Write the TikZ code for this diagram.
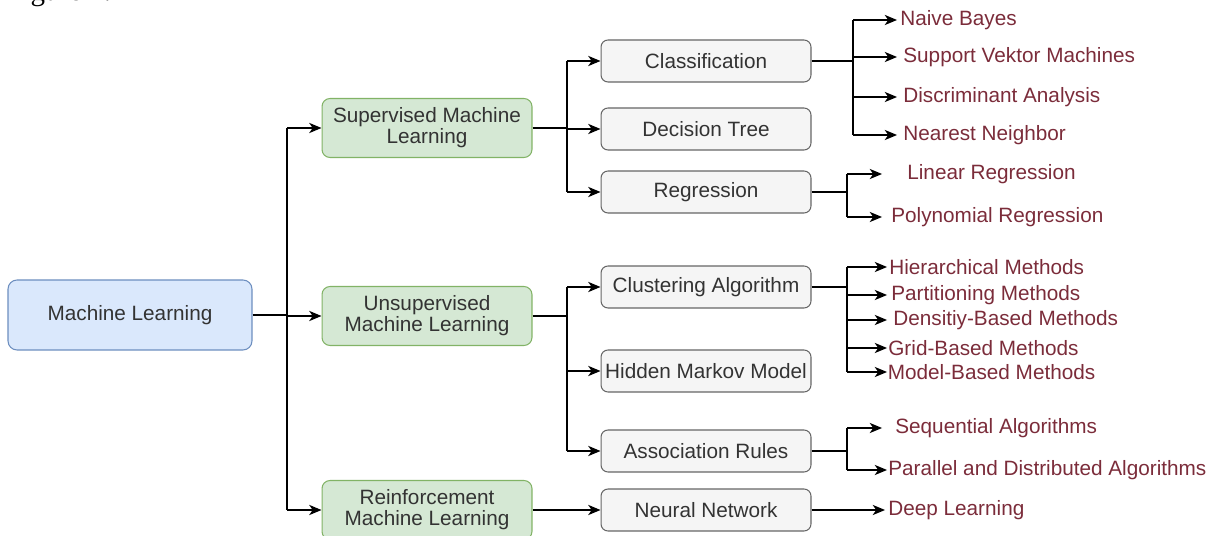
\documentclass[tikz,border=0pt]{standalone}
\usepackage{fontspec}
\setmainfont{Liberation Sans}
\newfontfamily\capfont{Liberation Serif}
\usepackage{xcolor}
\usepackage{tikz}
\usetikzlibrary{arrows.meta}
\definecolor{rootfill}{HTML}{DAE8FC}
\definecolor{rootline}{HTML}{6C8EBF}
\definecolor{kindfill}{HTML}{D5E8D4}
\definecolor{kindline}{HTML}{82B366}
\definecolor{algofill}{HTML}{F5F5F5}
\definecolor{algoline}{HTML}{666666}
\definecolor{boxtext}{HTML}{333333}
\definecolor{leaftext}{HTML}{7B2C3A}
\tikzset{
  root/.style={draw=rootline, fill=rootfill, line width=0.6pt, rounded corners=0.18cm,
    minimum width=4.88cm, minimum height=1.4cm, text=boxtext},
  kind/.style={draw=kindline, fill=kindfill, line width=0.6pt, rounded corners=0.16cm,
    minimum width=4.2cm, minimum height=1.18cm, text=boxtext, align=center},
  algo/.style={draw=algoline, fill=algofill, line width=0.6pt, rounded corners=0.14cm,
    minimum width=4.2cm, minimum height=0.84cm, text=boxtext, inner xsep=1pt},
  leaf/.style={anchor=west, inner xsep=0.12cm, inner ysep=1pt, text=leaftext},
  line/.style={draw=black, line width=0.8pt},
  arr/.style={line, -{Stealth[length=7pt, width=5.8pt, inset=2pt]}}
}

\begin{document}
\begin{tikzpicture}[x=0.02cm, y=-0.02cm, font=\fontsize{11.8}{11.8}\selectfont]
  \useasboundingbox (0,0) rectangle (1212,536);
  \node[anchor=base west, inner sep=0pt, font=\capfont\fontsize{16.5}{18}\selectfont] (fig) at (6,1) {Figure 2.};

  % main boxes
  \node[root] (ml) at (130,315) {Machine Learning};
  \node[kind] (sup) at (427,128) {Supervised Machine\\Learning};
  \node[kind] (uns) at (427,316) {Unsupervised\\Machine Learning};
  \node[kind] (rei) at (427,510) {Reinforcement\\Machine Learning};

  \node[algo] (cls) at (706,61) {Classification};
  \node[algo] (dt) at (706,129) {Decision Tree};
  \node[algo] (reg) at (706,192) {Regression};
  \node[algo] (clu) at (706,287) {Clustering Algorithm};
  \node[algo] (hmm) at (706,371) {Hidden Markov Model};
  \node[algo] (asr) at (706,451) {Association Rules};
  \node[algo] (nnw) at (706,510) {Neural Network};

  % leaves
  \node[leaf, inner xsep=0.06cm] (nb) at (897,20) {Naive Bayes};
  \node[leaf] (svm) at (897,57) {Support Vektor Machines};
  \node[leaf] (da) at (897,97) {Discriminant Analysis};
  \node[leaf] (nn) at (897,135) {Nearest Neighbor};
  \node[leaf, inner xsep=0.5cm] (lr) at (882,174) {Linear Regression};
  \node[leaf, inner xsep=0.18cm] (pr) at (882,217) {Polynomial Regression};
  \node[leaf, inner xsep=0.04cm] (hm) at (887,267) {Hierarchical Methods};
  \node[leaf, inner xsep=0.08cm] (pm) at (887,295) {Partitioning Methods};
  \node[leaf, inner xsep=0.12cm] (dbm) at (887,320) {Densitiy-Based Methods};
  \node[leaf, inner xsep=0.02cm] (gbm) at (887,348) {Grid-Based Methods};
  \node[leaf, inner xsep=0.01cm] (mbm) at (887,372) {Model-Based Methods};
  \node[leaf, inner xsep=0.26cm] (sa) at (882,428) {Sequential Algorithms};
  \node[leaf, inner xsep=0.02cm] (pda) at (887,470) {Parallel and Distributed Algorithms};
  \node[leaf, inner xsep=0.06cm] (dl) at (885,510) {Deep Learning};

  % branch points
  \coordinate (mlb) at (287,315);
  \coordinate (supb) at (567,128);
  \coordinate (unsb) at (567,316);
  \coordinate (clsb) at (853,61);
  \coordinate (regb) at (847,192);
  \coordinate (club) at (847,287);
  \coordinate (asrb) at (847,451);

  % connectors
  \draw[line] (ml.east) -- (mlb);
  \draw[line] (mlb |- sup.west) -- (mlb |- rei.west);
  \foreach \k in {sup,uns,rei} \draw[arr] (mlb |- \k.west) -- (\k.west);

  \draw[line] (sup.east) -- (supb);
  \draw[line] (supb |- cls.west) -- (supb |- reg.west);
  \foreach \k in {cls,dt,reg} \draw[arr] (supb |- \k.west) -- (\k.west);

  \draw[line] (uns.east) -- (unsb);
  \draw[line] (unsb |- clu.west) -- (unsb |- asr.west);
  \foreach \k in {clu,hmm,asr} \draw[arr] (unsb |- \k.west) -- (\k.west);

  \draw[arr] (rei.east) -- (nnw.west);

  \draw[line] (cls.east) -- (clsb);
  \draw[line] (clsb |- nb.west) -- (clsb |- nn.west);
  \foreach \k in {nb,svm,da,nn} \draw[arr] (clsb |- \k.west) -- (\k.west);

  \draw[line] (reg.east) -- (regb);
  \draw[line] (regb |- lr.west) -- (regb |- pr.west);
  \foreach \k in {lr,pr} \draw[arr] (regb |- \k.west) -- (\k.west);

  \draw[line] (clu.east) -- (club);
  \draw[line] (club |- hm.west) -- (club |- mbm.west);
  \foreach \k in {hm,pm,dbm,gbm,mbm} \draw[arr] (club |- \k.west) -- (\k.west);

  \draw[line] (asr.east) -- (asrb);
  \draw[line] (asrb |- sa.west) -- (asrb |- pda.west);
  \foreach \k in {sa,pda} \draw[arr] (asrb |- \k.west) -- (\k.west);

  \draw[arr] (nnw.east) -- (dl.west);
\end{tikzpicture}
\end{document}
